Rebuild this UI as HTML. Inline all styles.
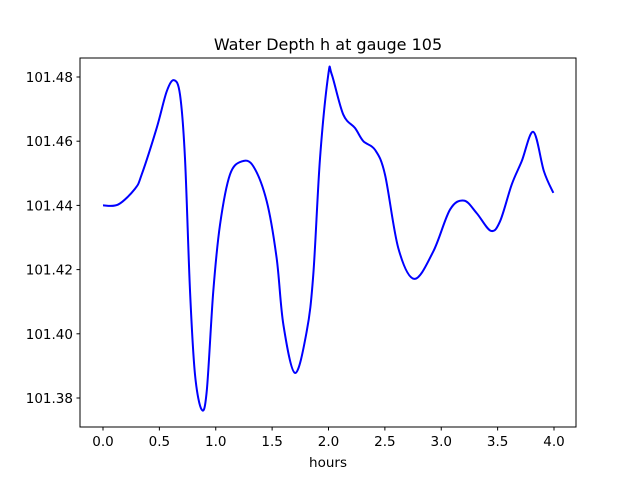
<!DOCTYPE html>
<html><head><meta charset="utf-8"><style>
html,body{margin:0;padding:0;background:#fff;}
svg{display:block;font-family:"DejaVu Sans","Liberation Sans",sans-serif;}
</style></head><body>
<svg id="chart" width="640" height="480">
<rect width="640" height="480" fill="#fff"/>
<text x="328" y="50" font-size="16" text-anchor="middle">Water Depth h at gauge 105</text>
<g id="plot"></g>
<rect x="80" y="58" width="496" height="369" fill="none" stroke="#000" stroke-width="1"/>
<text x="328" y="467" font-size="13.5" text-anchor="middle">hours</text>
</svg>
<script>
const times = [0,0.136,0.284,0.343,0.476,0.565,0.63,0.683,0.727,0.772,0.816,0.875,0.92,0.978,1.038,1.126,1.23,1.333,1.452,1.54,1.6,1.703,1.807,1.865,1.925,1.998,2.028,2.131,2.235,2.309,2.413,2.501,2.619,2.761,2.93,3.078,3.202,3.314,3.439,3.521,3.625,3.713,3.817,3.911,3.994];
const depths = [101.44,101.4403,101.4452,101.4496,101.4641,101.4755,101.479,101.4745,101.4548,101.4132,101.3873,101.3764,101.3821,101.4132,101.434,101.4496,101.4537,101.4522,101.4413,101.4236,101.4028,101.3878,101.4008,101.4184,101.4548,101.4807,101.4809,101.4683,101.4641,101.46,101.4573,101.4496,101.4267,101.4171,101.4257,101.4387,101.4415,101.4376,101.4321,101.435,101.4465,101.4537,101.4629,101.4506,101.4439];
const xTicks = [0,0.5,1.0,1.5,2.0,2.5,3.0,3.5,4.0];
const xTickLabels = ["0.0","0.5","1.0","1.5","2.0","2.5","3.0","3.5","4.0"];
const yTicks = [101.38,101.40,101.42,101.44,101.46,101.48];
const yTickLabels = ["101.38","101.40","101.42","101.44","101.46","101.48"];

const NS="http://www.w3.org/2000/svg";
function xs(t){return 103+t*112.75;}
function ys(h){return 398-(h-101.38)*3210;}
const g=document.getElementById('plot');
function mk(tag,attrs){const e=document.createElementNS(NS,tag);for(const k in attrs)e.setAttribute(k,attrs[k]);return e;}

xTicks.forEach((t,i)=>{
  const x=xs(t);
  const l=mk('line',{x1:x,x2:x,y1:427,y2:430.5,stroke:'#000'});
  
  
  g.appendChild(l);
  const tx=mk('text',{x:x,y:446,'font-size':13.5,'text-anchor':'middle'});
  
  
  tx.textContent=xTickLabels[i];g.appendChild(tx);
});
yTicks.forEach((v,i)=>{
  const y=ys(v);
  const l=mk('line',{x1:76.5,x2:80,y1:y,y2:y,stroke:'#000'});
  
  
  g.appendChild(l);
  const tx=mk('text',{x:73,y:y+5,'font-size':13.5,'text-anchor':'end'});
  
  
  tx.textContent=yTickLabels[i];g.appendChild(tx);
});

const pts=times.map((t,i)=>[xs(t),ys(depths[i])]);
let d='M'+pts[0][0]+','+pts[0][1];
for(let i=0;i<pts.length-1;i++){
  const p0=pts[Math.max(0,i-1)],p1=pts[i],p2=pts[i+1],p3=pts[Math.min(pts.length-1,i+2)];
  const c1=[p1[0]+(p2[0]-p0[0])/6,p1[1]+(p2[1]-p0[1])/6];
  const c2=[p2[0]-(p3[0]-p1[0])/6,p2[1]-(p3[1]-p1[1])/6];
  d+=' C'+c1[0]+','+c1[1]+' '+c2[0]+','+c2[1]+' '+p2[0]+','+p2[1];
}
const path=mk('path',{d:d,fill:'none',stroke:'#0000ff','stroke-width':2,'stroke-linejoin':'round'});


g.appendChild(path);
</script>
</body></html>
